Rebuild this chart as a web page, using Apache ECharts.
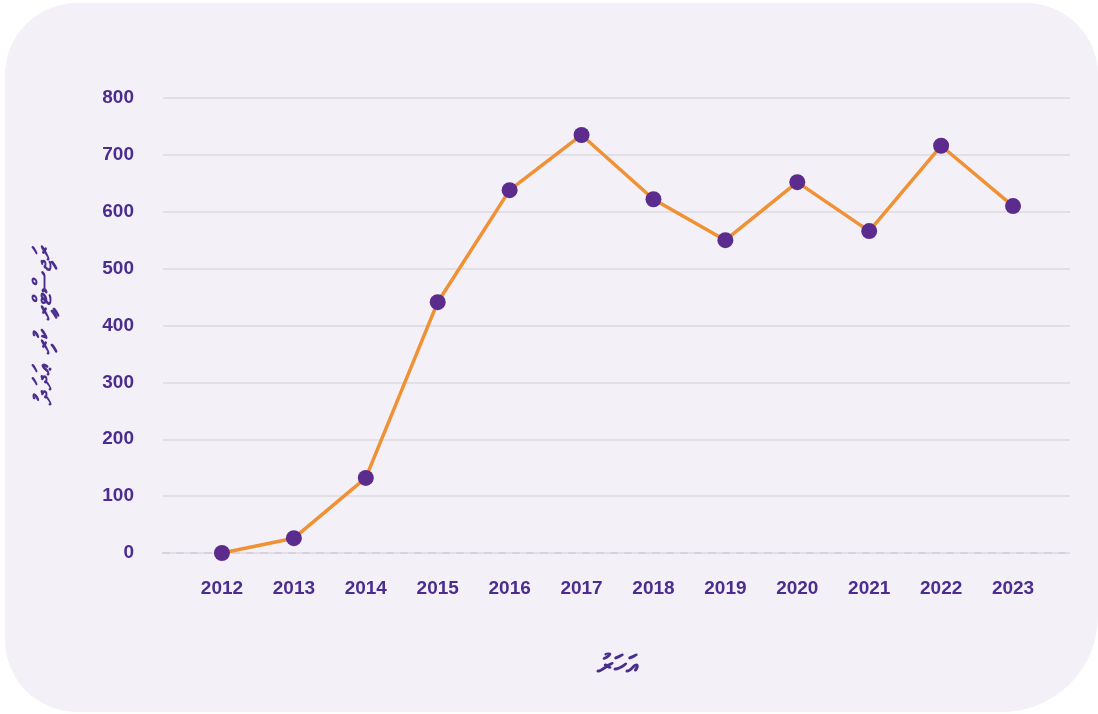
<!DOCTYPE html>
<html>
<head>
<meta charset="utf-8">
<script src="https://cdn.jsdelivr.net/npm/echarts@6/dist/echarts.min.js"></script>
<style>
  html, body { margin: 0; padding: 0; background: #ffffff; }
  #card {
    position: absolute; left: 5px; top: 3px; width: 1093px; height: 709px;
    background: #f3f1f7; border-radius: 72px 72px 96px 72px;
  }
  #main { position: absolute; left: 0; top: 0; width: 1098px; height: 714px; }
</style>
</head>
<body>
<div id="card"></div>
<div id="main"></div>
<script>
// years and counts
var years = ['2012', '2013', '2014', '2015', '2016', '2017', '2018', '2019', '2020', '2021', '2022', '2023'];
var counts = [0, 26, 132, 441, 638, 735, 622, 550, 652, 566, 716, 610];
var yMin = 0, yMax = 800, yStep = 100;
var xName = 'އަހަރު';
var yName = 'ރަޖިސްޓްރީ ކުރި ޢަދަދު';

var purple = '#4b2d8f';
var labelFont = { color: purple, fontSize: 19, fontWeight: 'bold', fontFamily: 'Liberation Sans' };

var chart = echarts.init(document.getElementById('main'));
var option = {
  backgroundColor: 'transparent',
  animation: false,
  grid: [
    // wide grid: gridlines + y labels
    { left: 163, right: 28, top: 98, bottom: 161 },
    // inner grid: where the points sit
    { left: 186, right: 49, top: 98, bottom: 161 }
  ],
  xAxis: [
    {
      gridIndex: 0, type: 'category', data: years,
      axisLine: { show: true, lineStyle: { color: '#d6d2dc', width: 2, type: [6, 8] } },
      axisTick: { show: false }, axisLabel: { show: false }
    },
    {
      gridIndex: 1, type: 'category', data: years, boundaryGap: true,
      axisLine: { show: false }, axisTick: { show: false },
      axisLabel: Object.assign({ margin: 26 }, labelFont),
      name: xName, nameLocation: 'middle', nameGap: 100,
      nameTextStyle: { color: purple, fontSize: 28, fontWeight: 'bold', fontFamily: 'DejaVu Sans' }
    }
  ],
  yAxis: [
    {
      gridIndex: 0, type: 'value', min: yMin, max: yMax, interval: yStep,
      axisLine: { show: false }, axisTick: { show: false },
      axisLabel: Object.assign({ margin: 29 }, labelFont),
      splitLine: { lineStyle: { color: '#e2dfe6', width: 2 } },
      name: yName, nameLocation: 'middle', nameGap: 106, nameRotate: 90,
      nameTextStyle: { color: purple, fontSize: 25, fontWeight: 'bold', fontFamily: 'DejaVu Sans' }
    },
    {
      gridIndex: 1, type: 'value', min: yMin, max: yMax, interval: yStep,
      show: false
    }
  ],
  series: [
    {
      type: 'line', xAxisIndex: 1, yAxisIndex: 1, data: counts,
      symbol: 'circle', symbolSize: 16,
      lineStyle: { color: '#f19136', width: 3.5 },
      itemStyle: { color: '#5b2c8d', borderWidth: 0 },
      z: 5
    }
  ]
};
chart.setOption(option);
</script>
</body>
</html>
